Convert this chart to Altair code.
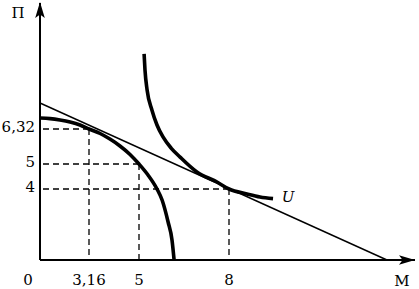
import altair as alt
import pandas as pd

# ---- data (М on x, П on y) ----
# production possibility frontier
PPF_M = [0, 0.65, 1.29, 1.94, 2.58, 3.16, 3.57, 3.93, 4.30, 4.67, 5.00, 5.30, 5.60, 5.77, 5.97, 6.10, 6.17]
PPF_P = [7.03, 6.99, 6.90, 6.77, 6.58, 6.32, 6.15, 5.94, 5.68, 5.36, 5.00, 4.56, 4.00, 3.38, 2.14, 1.13, 0]
# indifference curve U
U_M = [5.17, 5.20, 5.27, 5.43, 5.60, 5.80, 6.07, 6.37, 6.93, 7.60, 8.00, 8.91, 9.57, 10.23]
U_P = [11.17, 10.13, 8.84, 7.55, 6.58, 6.02, 5.60, 5.26, 4.68, 4.28, 4.00, 3.72, 3.55, 3.46]
# price line
LINE_M = [0, 16]
LINE_P = [8, 0]
# marked points (dashed guides)
GUIDE_M = [3.16, 5, 8]
GUIDE_P = [6.32, 5, 4]
# tick labels
X_TICKS = [3.16, 5, 8]
X_LABELS = ["3,16", "5", "8"]
Y_TICKS = [6.32, 5, 4]
Y_LABELS = ["6,32", "5", "4"]
ORIGIN_LABEL = "0"
X_TITLE = "М"
Y_TITLE = "П"
CURVE_LABEL = "U"

# axis extents
X_END = 17.42
Y_END = 14.46

# schematic (piecewise) scales, as drawn in the reference
xs = alt.Scale(domain=[0, 3.16, 5, 8, X_END], range=[0, 49, 99, 189, 375], nice=False, zero=False)
ys = alt.Scale(domain=[0, 4, 5, 6.32, Y_END], range=[257, 186, 161, 126, 0], nice=False, zero=False)

FONT = "DejaVu Serif"
BLACK = "#000000"


def X(f):
    return alt.X(f, type="quantitative", scale=xs, axis=None)


def Y(f):
    return alt.Y(f, type="quantitative", scale=ys, axis=None)


ppf = pd.DataFrame({"M": PPF_M, "P": PPF_P, "i": range(len(PPF_M))})
ucurve = pd.DataFrame({"M": U_M, "P": U_P, "i": range(len(U_M))})
line = pd.DataFrame({"M": LINE_M, "P": LINE_P, "i": range(len(LINE_M))})
guides = pd.DataFrame({"M": GUIDE_M, "P": GUIDE_P})
axes = pd.DataFrame({"M": [0, 0], "M2": [X_END, 0], "P": [0, 0], "P2": [0, Y_END]})
xt = pd.DataFrame({"M": X_TICKS, "P": [0] * len(X_TICKS), "t": X_LABELS})
yt = pd.DataFrame({"M": [0] * len(Y_TICKS), "P": Y_TICKS, "t": Y_LABELS})
origin = pd.DataFrame({"M": [0], "P": [0], "t": [ORIGIN_LABEL]})
xtitle = pd.DataFrame({"M": [X_END], "P": [0], "t": [X_TITLE]})
ytitle = pd.DataFrame({"M": [0], "P": [Y_END], "t": [Y_TITLE]})
ulab = pd.DataFrame({"M": [U_M[-1]], "P": [U_P[-1]], "t": [CURVE_LABEL]})

dash = [6, 4]
h_guides = alt.Chart(guides).mark_rule(color=BLACK, strokeWidth=1.3, strokeDash=dash).encode(
    x=X("M"), x2=alt.datum(0), y=Y("P"))
v_guides = alt.Chart(guides).mark_rule(color=BLACK, strokeWidth=1.3, strokeDash=dash).encode(
    x=X("M"), y=Y("P"), y2=alt.datum(0))

axis_lines = alt.Chart(axes).mark_rule(color=BLACK, strokeWidth=2).encode(
    x=X("M"), x2="M2", y=Y("P"), y2="P2")

ppf_line = alt.Chart(ppf).mark_line(color=BLACK, strokeWidth=3.6, interpolate="monotone").encode(
    x=X("M"), y=Y("P"), order="i:Q")
u_line = alt.Chart(ucurve).mark_line(color=BLACK, strokeWidth=3.6, interpolate="monotone").encode(
    x=X("M"), y=Y("P"), order="i:Q")
price_line = alt.Chart(line).mark_line(color=BLACK, strokeWidth=1.4).encode(
    x=X("M"), y=Y("P"), order="i:Q")

ARROW = "M0,-1L0.6,1L0,0.55L-0.6,1Z"
x_arrow = alt.Chart(xtitle).mark_point(shape=ARROW, filled=True, size=256, color=BLACK, opacity=1,
                                       angle=90, xOffset=-8).encode(x=X("M"), y=Y("P"))
y_arrow = alt.Chart(ytitle).mark_point(shape=ARROW, filled=True, size=256, color=BLACK, opacity=1,
                                       yOffset=7).encode(x=X("M"), y=Y("P"))

txt = dict(font=FONT, fontSize=15, color=BLACK, baseline="middle")
x_labels = alt.Chart(xt).mark_text(align="center", dy=20, **txt).encode(x=X("M"), y=Y("P"), text="t:N")
y_labels = alt.Chart(yt).mark_text(align="right", dx=-5, dy=-2, **txt).encode(x=X("M"), y=Y("P"), text="t:N")
o_label = alt.Chart(origin).mark_text(align="center", dx=-12, dy=20, **txt).encode(x=X("M"), y=Y("P"), text="t:N")
x_title = alt.Chart(xtitle).mark_text(align="center", dx=-13, dy=21, **txt).encode(x=X("M"), y=Y("P"), text="t:N")
y_title = alt.Chart(ytitle).mark_text(align="center", dx=-22, dy=10, **txt).encode(x=X("M"), y=Y("P"), text="t:N")
u_label = alt.Chart(ulab).mark_text(align="center", dx=15, dy=-2, fontStyle="italic", **txt).encode(
    x=X("M"), y=Y("P"), text="t:N")

chart = alt.layer(
    h_guides, v_guides, axis_lines, ppf_line, price_line, u_line,
    x_arrow, y_arrow, x_labels, y_labels, o_label, x_title, y_title, u_label,
).properties(
    width=377, height=257,
    autosize=alt.AutoSizeParams(type="none"),
    padding={"left": 40, "top": 3, "right": 2, "bottom": 29},
    background="white",
).configure_view(strokeWidth=0)

chart.save("out.html", embed_options={"renderer": "svg", "actions": False})
